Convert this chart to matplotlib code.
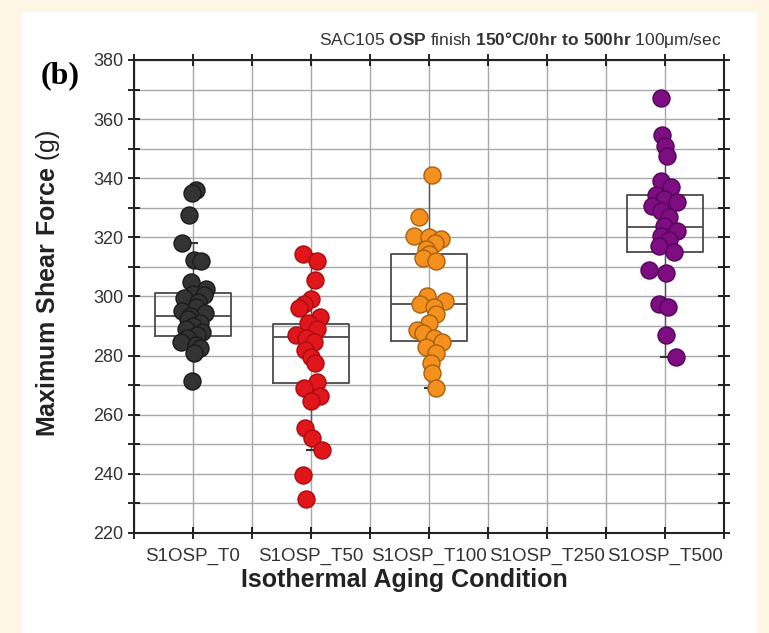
import matplotlib
matplotlib.use("Agg")
import matplotlib.pyplot as plt
from matplotlib.patches import Rectangle
from matplotlib.ticker import MultipleLocator

plt.rcParams['font.family'] = ['Liberation Sans', 'DejaVu Sans']
plt.rcParams['mathtext.fontset'] = 'custom'
plt.rcParams['mathtext.rm'] = 'Liberation Sans'
plt.rcParams['mathtext.bf'] = 'Liberation Sans:bold'

# ---------------- data ----------------
categories = ["S1OSP_T0", "S1OSP_T50", "S1OSP_T100", "S1OSP_T250", "S1OSP_T500"]
cat_pos = [1, 3, 5, 7, 9]

t0_vals = [336.0, 335.0, 327.5, 318.0, 312.5, 312.0, 305.0, 302.5, 301.0, 300.5,
           299.5, 298.0, 296.5, 295.0, 294.5, 293.5, 292.5, 291.0, 290.0, 289.0,
           288.0, 287.0, 286.0, 284.5, 283.5, 282.5, 281.0, 271.5]
t0_jit = [0.05, -0.02, -0.07, -0.19, 0.02, 0.13, -0.03, 0.22, 0.0, 0.18,
          -0.15, 0.08, 0.05, -0.18, 0.2, -0.05, -0.08, 0.12, 0.0, -0.12,
          0.15, 0.07, -0.1, -0.2, 0.05, 0.12, 0.02, -0.02]

t50_vals = [314.5, 312.0, 305.5, 299.0, 297.5, 296.0, 293.0, 291.0, 289.0, 287.0,
            286.0, 284.5, 282.0, 279.5, 277.5, 271.0, 269.0, 266.5, 264.5, 255.5,
            252.0, 248.0, 239.5, 231.5]
t50_jit = [-0.14, 0.1, 0.07, 0.0, -0.12, -0.2, 0.15, -0.05, 0.1, -0.25,
           -0.08, 0.05, -0.1, 0.0, 0.07, 0.1, -0.12, 0.15, 0.0, -0.1,
           0.02, 0.18, -0.14, -0.08]

t100_vals = [341.0, 327.0, 320.5, 320.0, 319.5, 318.0, 316.0, 314.5, 313.0, 312.0,
             300.0, 298.5, 297.5, 296.5, 294.0, 291.0, 288.5, 287.5, 286.0, 284.5,
             283.0, 281.0, 277.5, 274.0, 269.0]
t100_jit = [0.05, -0.17, -0.25, 0.0, 0.2, 0.1, -0.05, 0.0, -0.1, 0.12,
            -0.03, 0.27, -0.15, 0.08, 0.12, 0.0, -0.2, -0.1, 0.08, 0.22,
            -0.05, 0.12, 0.03, 0.05, 0.12]

t500_vals = [367.0, 354.5, 351.0, 347.5, 339.0, 337.0, 334.5, 333.0, 332.0, 330.5,
             329.0, 327.0, 324.0, 322.0, 320.5, 319.0, 317.0, 315.0, 309.0, 308.0,
             297.5, 296.5, 287.0, 279.5]
t500_jit = [-0.07, -0.05, 0.0, 0.03, -0.07, 0.1, -0.15, -0.02, 0.2, -0.22,
            -0.07, 0.07, -0.02, 0.2, -0.07, 0.07, -0.1, 0.15, -0.27, 0.02,
            -0.1, 0.05, 0.02, 0.19]

# box statistics (T0, T50, T100, T500)
box_pos = [1, 3, 5, 9]
box_q1 = [286.6, 270.7, 284.9, 315.0]
box_med = [293.4, 286.3, 297.5, 323.5]
box_q3 = [301.2, 290.7, 314.4, 334.3]
whis_lo = [271.5, 248.0, 269.0, 279.5]
whis_hi = [318.0, 314.5, 341.0, 354.5]

series = [
    (1, t0_vals, t0_jit, '#333333', '#1a1a1a'),
    (3, t50_vals, t50_jit, '#e0161b', '#a80c10'),
    (5, t100_vals, t100_jit, '#f4911e', '#a8600f'),
    (9, t500_vals, t500_jit, '#7d0d80', '#52055a'),
]

# ---------------- figure ----------------
W, H = 769, 633
fig = plt.figure(figsize=(W / 100, H / 100), dpi=100, facecolor='#fdf6e4')
fig.patches.append(Rectangle((22 / W, 0.0), (757 - 22) / W, 1 - 12 / H,
                             transform=fig.transFigure, facecolor='white',
                             edgecolor='none', zorder=-10))

ax = fig.add_axes([134 / W, 1 - 533 / H, (724 - 134) / W, (533 - 60) / H])
ax.set_facecolor('white')
ax.set_xlim(0, 10)
ax.set_ylim(220, 380)

ax.xaxis.set_major_locator(MultipleLocator(1))
ax.yaxis.set_major_locator(MultipleLocator(10))
ax.grid(True, which='major', color='#a8a8a8', linewidth=1.0, zorder=0)
ax.set_axisbelow(True)

xt = list(range(0, 11))
ax.set_xticks(xt)
ax.set_xticklabels([categories[cat_pos.index(t)] if t in cat_pos else '' for t in xt])
yt = list(range(220, 381, 10))
ax.set_yticks(yt)
ax.set_yticklabels([str(v) if v % 20 == 0 else '' for v in yt])

ax.tick_params(axis='x', direction='inout', length=9, width=1.2, labelsize=13.5,
               labelcolor='#333333', pad=6, top=True)
ax.tick_params(axis='y', direction='inout', length=9, width=1.2, labelsize=13,
               labelcolor='#333333', pad=3, right=True)
for sp in ax.spines.values():
    sp.set_linewidth(1.5)
    sp.set_color('#222222')

# box plots
stats = []
for i in range(len(box_pos)):
    stats.append(dict(q1=box_q1[i], med=box_med[i], q3=box_q3[i],
                      whislo=whis_lo[i], whishi=whis_hi[i], fliers=[]))
ax.bxp(stats, positions=box_pos, widths=1.28, showfliers=False,
       boxprops=dict(color='#4a4a4a', linewidth=1.3),
       medianprops=dict(color='#4a4a4a', linewidth=1.3),
       whiskerprops=dict(color='#555555', linewidth=1.0),
       capprops=dict(color='#333333', linewidth=1.5),
       capwidths=0.12, manage_ticks=False, zorder=2)

# points
for pos, vals, jit, fc, ec in series:
    xs = [pos + j for j in jit]
    ax.scatter(xs, vals, s=150, c=fc, edgecolors=ec, linewidths=1.0, zorder=3)

ax.set_xticks(xt)
ax.set_xticklabels([categories[cat_pos.index(t)] if t in cat_pos else '' for t in xt])

fig.text(404 / W, 1 - 580 / H, 'Isothermal Aging Condition', ha='center', va='center',
         fontsize=18, fontweight='bold', color='#222222')
fig.text(48 / W, 1 - 283 / H, r'$\mathbf{Maximum\ Shear\ Force}$ (g)', ha='center',
         va='center', rotation=90, fontsize=18, color='#222222')
fig.text(722 / W, 1 - 40 / H,
         r'SAC105 $\mathbf{OSP}$ finish $\mathbf{150°C/0hr\ to\ 500hr}$ 100μm/sec',
         ha='right', va='center', fontsize=12.5, color='#333333')
fig.text(60 / W, 1 - 76 / H, '(b)', ha='center', va='center', fontsize=23,
         fontweight='bold', family='Liberation Serif', color='black')

fig.savefig('out.png', dpi=100, facecolor=fig.get_facecolor())
